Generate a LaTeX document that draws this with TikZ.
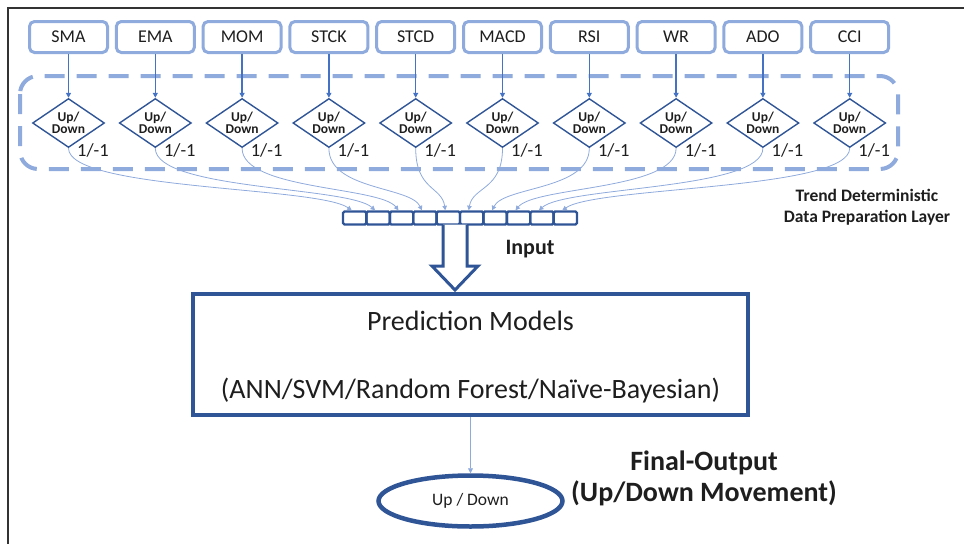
\documentclass[tikz,border=0pt]{standalone}
\usepackage{fontspec}
\setmainfont{Carlito}
\usetikzlibrary{shapes.geometric,arrows.meta}
\definecolor{lblue}{HTML}{8FAADC}
\definecolor{dblue}{HTML}{2F5597}
\definecolor{mblue}{HTML}{4472C4}
\definecolor{txt}{HTML}{1E1E1E}
\definecolor{frame}{HTML}{333333}
\tikzset{
  indbox/.style={draw=lblue, line width=3pt, rounded corners=5pt, minimum width=78pt, minimum height=31pt, inner sep=0pt, text=txt, font=\fontsize{18}{20}\selectfont},
  updia/.style={draw=dblue, line width=1.4pt, shape=diamond, minimum width=72pt, minimum height=49pt, inner sep=0pt},
  diatext/.style={align=center, inner sep=0pt, text=txt, font=\fontsize{13.5}{12.5}\selectfont\bfseries},
  valtext/.style={inner sep=0pt, text=txt, font=\fontsize{18.5}{20}\selectfont},
  downarrow/.style={draw=mblue, line width=1.5pt, -{Triangle[length=5pt,width=5pt]}},
  curvearrow/.style={draw=lblue, line width=0.8pt, -{Triangle[length=4.5pt,width=4.5pt]}},
  cellbox/.style={draw=dblue, line width=2.4pt, rounded corners=1.5pt, minimum width=23.4pt, minimum height=13pt, inner sep=0pt},
  layerframe/.style={draw=lblue, line width=4pt, rounded corners=18pt, dash pattern=on 20pt off 12pt},
  bigarrow/.style={draw=dblue, line width=3pt, fill=white, line join=miter},
  modelbox/.style={draw=dblue, line width=3.5pt, minimum width=555pt, minimum height=121pt, inner sep=0pt},
  modeltext/.style={anchor=base, inner sep=0pt, text=txt, font=\fontsize{28}{30}\selectfont},
  outellipse/.style={draw=dblue, line width=4.5pt, shape=ellipse, minimum width=184pt, minimum height=51pt, inner sep=0pt, text=txt, font=\fontsize{17.5}{20}\selectfont},
  thinarrow/.style={draw=lblue, line width=0.8pt, -{Triangle[length=5pt,width=5pt]}},
  boldlabel/.style={align=center, inner sep=0pt, text=txt, font=\bfseries},
}
\begin{document}
\begin{tikzpicture}[x=1pt,y=-1pt]
\useasboundingbox (0,0) rectangle (964,544);
% frame
\draw[frame, line width=1.5pt] (964,8) -- (8,8) -- (8,544);
% dashed layer
\draw[layerframe] (20,76) rectangle (898,169);
% indicator boxes, diamonds
\foreach \lab [count=\i] in {SMA,EMA,MOM,STCK,STCD,MACD,RSI,WR,ADO,CCI} {
  \pgfmathsetmacro{\cx}{68.5+86.8*(\i-1)}
  \node[indbox] (b\i) at (\cx,37) {\lab};
  \node[updia] (d\i) at (\cx,123) {};
  \node[diatext] (dt\i) at (\cx,123) {Up/\\Down};
  \node[valtext] (v\i) at (\cx+24.5,150) {1/-1};
  \draw[downarrow] (b\i.south) -- (d\i.north);
  \node[cellbox] (c\i) at ({354.7+23.4*(\i-1)},218) {};
}
% curves
\foreach \i in {1,...,10} {
  \pgfmathsetmacro{\dx}{-0.12*((354.7+23.4*(\i-1)-3)-(68.5+86.8*(\i-1)))}
  \draw[curvearrow] (d\i.south) .. controls +(0,42) and +(\dx,-24) .. ([xshift=-3pt]c\i.north);
}
% input arrow
\coordinate (ar) at (455,224.5);
\draw[bigarrow] (ar) ++(-12,0) -- (443,266) -- (432,266) -- (455,290) -- (478,266) -- (467,266) -- (467,224.5);
\node[boldlabel, font=\fontsize{22}{24}\selectfont\bfseries] (inp) at (530,249) {Input};
% trend label
\node[boldlabel, font=\fontsize{17.5}{21}\selectfont\bfseries] (trend) at (867,207.5) {Trend Deterministic\\Data Preparation Layer};
% model box
\node[modelbox] (pm) at (470.5,354.5) {};
\node[modeltext] (pm1) at (470.5,330) {Prediction Models};
\node[modeltext] (pm2) at (470.5,398) {(ANN/SVM/Random Forest/Naïve-Bayesian)};
% output
\node[outellipse] (out) at (470.5,501) {Up / Down};
\draw[thinarrow] (pm.south) -- (out.north);
\node[boldlabel, font=\fontsize{28}{31}\selectfont\bfseries] (fo) at (704,478) {Final-Output\\(Up/Down Movement)};
\end{tikzpicture}
\end{document}
